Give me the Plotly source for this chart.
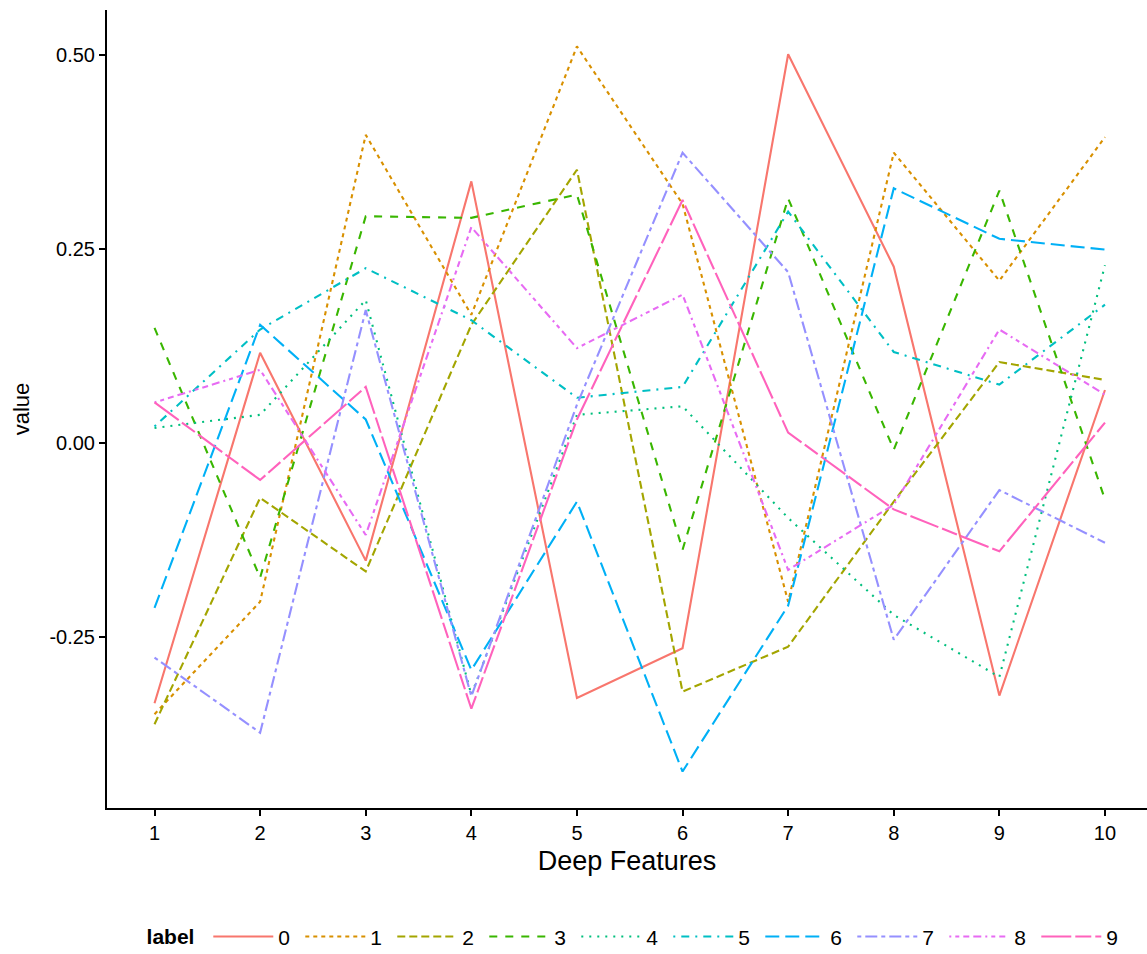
import plotly.graph_objects as go

# Feature index on the x axis
features = [1, 2, 3, 4, 5, 6, 7, 8, 9, 10]

# Deep feature values for each label
label_0 = [-0.336, 0.116, -0.152, 0.337, -0.329, -0.265, 0.501, 0.227, -0.326, 0.068]
label_1 = [-0.350, -0.205, 0.397, 0.165, 0.511, 0.308, -0.205, 0.374, 0.209, 0.394]
label_2 = [-0.363, -0.071, -0.166, 0.152, 0.352, -0.321, -0.263, -0.076, 0.104, 0.081]
label_3 = [0.148, -0.174, 0.292, 0.290, 0.320, -0.138, 0.315, -0.009, 0.325, -0.073]
label_4 = [0.019, 0.036, 0.184, -0.325, 0.036, 0.047, -0.097, -0.222, -0.302, 0.229]
label_5 = [0.021, 0.146, 0.225, 0.158, 0.058, 0.072, 0.298, 0.117, 0.075, 0.178]
label_6 = [-0.213, 0.152, 0.030, -0.293, -0.076, -0.424, -0.210, 0.328, 0.263, 0.249]
label_7 = [-0.277, -0.374, 0.171, -0.327, 0.049, 0.374, 0.220, -0.254, -0.061, -0.129]
label_8 = [0.052, 0.094, -0.119, 0.278, 0.122, 0.191, -0.164, -0.080, 0.146, 0.062]
label_9 = [0.052, -0.048, 0.072, -0.343, 0.030, 0.313, 0.013, -0.086, -0.140, 0.026]

labels = ["0", "1", "2", "3", "4", "5", "6", "7", "8", "9"]
series = [label_0, label_1, label_2, label_3, label_4,
          label_5, label_6, label_7, label_8, label_9]

y_ticks = [-0.25, 0.0, 0.25, 0.50]
y_tick_text = ["-0.25", "0.00", "0.25", "0.50"]

# Hue palette and line types, one per label
colors = ["#F8766D", "#D89000", "#A3A500", "#39B600", "#00BF7D",
          "#00BFC4", "#00B0F6", "#9590FF", "#E76BF3", "#FF62BC"]
dashes = [
    "solid",
    "4px,4px",
    "8px,4px",
    "8px,8px",
    "2px,6px",
    "2px,6px,8px,6px",
    "14px,6px",
    "4px,4px,12px,4px",
    "2px,4px,4px,4px,6px,4px,8px,4px",
    "30px,4px,16px,4px",
]

FONT = "Liberation Sans, Arial, sans-serif"

fig = go.Figure()
for name, vals, col, dash in zip(labels, series, colors, dashes):
    fig.add_trace(go.Scatter(
        x=features, y=vals, name=name, mode="lines",
        line=dict(color=col, width=2.1, dash=dash),
    ))

fig.update_layout(
    width=1147, height=954,
    margin=dict(l=107, r=0, t=10, b=146),
    paper_bgcolor="white", plot_bgcolor="white",
    font=dict(family=FONT, color="black"),
    showlegend=True,
    legend=dict(
        orientation="h",
        xref="container", yref="container",
        x=0.555, y=0.018, xanchor="center", yanchor="middle",
        title=dict(text="<b>label</b>&nbsp;", side="left", font=dict(size=21)),
        font=dict(size=21),
        itemwidth=60,
        entrywidth=17,
    ),
)

fig.update_xaxes(
    range=[0.55, 10.398],
    tickvals=features, ticktext=[str(v) for v in features],
    showline=True, linecolor="black", linewidth=2,
    ticks="outside", ticklen=6, tickwidth=1.5, tickcolor="black",
    showgrid=False, zeroline=False,
    tickfont=dict(size=20, color="black"),
    title=dict(text="Deep Features", font=dict(size=27), standoff=8),
)
fig.update_yaxes(
    range=[-0.471, 0.558],
    tickvals=y_ticks, ticktext=y_tick_text,
    showline=True, linecolor="black", linewidth=2,
    ticks="outside", ticklen=6, tickwidth=1.5, tickcolor="black",
    showgrid=False, zeroline=False,
    tickfont=dict(size=20, color="black"),
    title=dict(text="value", font=dict(size=22), standoff=14),
)

fig.write_html("out.html")
